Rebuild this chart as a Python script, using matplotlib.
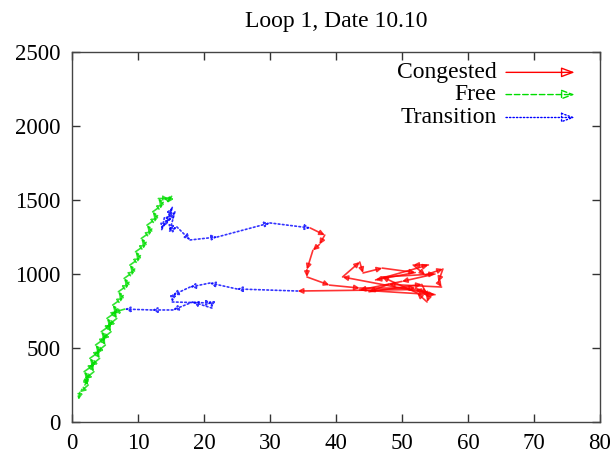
import numpy as np
import matplotlib
matplotlib.use("Agg")
import matplotlib.pyplot as plt

plt.rcParams['font.family'] = ['Liberation Serif', 'DejaVu Serif']

title = "Loop 1, Date 10.10"
x_ticks = [0, 10, 20, 30, 40, 50, 60, 70, 80]
y_ticks = [0, 500, 1000, 1500, 2000, 2500]

# Free regime: (occupancy, flow) paths; None separates paths
free_x = [1.96, 2.56, 1.84, 3.43, 2.71, 4.29, 3.57, 5.16, 4.44, 6.02, 5.30, 6.89, 6.17, 7.75, 7.03,
          8.62, 7.90, 9.48, 8.77, 10.35, 9.63, 11.22, 10.50, 12.08, 11.36, 12.95, 12.23, 13.81,
          13.09, 14.68, 15.1, 14.4, None,
          8.0, 6.27, 6.79, 5.41, 5.92, 4.54, 5.06, 3.68, 4.19, 2.81, 3.33, 1.95, 2.46, 1.18, 1.0]
free_y = [250, 300, 340, 390, 430, 480, 520, 570, 610, 660, 700, 750, 790, 840, 880,
          930, 970, 1020, 1060, 1110, 1150, 1200, 1240, 1290, 1330, 1380, 1420, 1470,
          1510, 1510, 1525, 1480, None,
          763, 740, 700, 650, 610, 560, 520, 470, 430, 380, 340, 290, 250, 200, 150]

# Transition regime
trans_x = [14.0, 13.6, 15.2, 14.3, 15.6, 14.8, 15.9, 17.9, 22.0, 30.0, 36.1, None,
           34.2, 25.0, 20.9, 17.9, 15.3, 15.2, 21.2, 21.2, 18.3, 15.3, 12.1, 8.0]
trans_y = [1380, 1300, 1450, 1340, 1420, 1290, 1318, 1230, 1250, 1345, 1311, None,
           885, 899, 939, 912, 858, 811, 804, 770, 811, 757, 757, 763]

# Congested regime
cong_x = [36.1, 38.3, 37.5, 36.5, 35.6, 35.6, 39.0, 43.6, 52.0, 54.0, 41.0, 43.6, 44.1, 47.0,
          52.0, 46.0, 54.0, 51.7, 53.5, 56.2, 55.5, 56.0, 48.0, 45.0, 53.0, 54.0, 53.8, 52.3,
          47.0, 55.0, 50.0, 43.6, 55.0, 52.0, 34.2]
cong_y = [1311, 1263, 1200, 1160, 1030, 980, 925, 905, 905, 870, 980, 1081, 1007, 1040,
          1010, 960, 1061, 1061, 993, 1034, 946, 912, 930, 880, 930, 840, 811, 872,
          980, 1000, 950, 892, 860, 895, 885]

series = [
    ("Congested", cong_x, cong_y, "#ff0000", "-"),
    ("Free", free_x, free_y, "#00dd00", (0, (4, 2))),
    ("Transition", trans_x, trans_y, "#0000ff", (0, (1, 1.5))),
]

fig = plt.figure(figsize=(6.15, 4.59), dpi=100)
ax = fig.add_axes([0.117, 0.0806, 0.8586, 0.8061])
ax.set_xlim(0, 80)
ax.set_ylim(0, 2500)

head = "-|>,head_length=0.3,head_width=0.15"
for name, xs, ys, col, ls in series:
    for i in range(len(xs) - 1):
        if xs[i] is None or xs[i + 1] is None:
            continue
        ax.annotate("", xy=(xs[i + 1], ys[i + 1]), xytext=(xs[i], ys[i]),
                    arrowprops=dict(arrowstyle=head, color=col, lw=1.2, ls=ls,
                                    shrinkA=0, shrinkB=0, fc="none", alpha=0.8))

# key (legend) in upper right
key_rows = [0.945, 0.885, 0.823]
for (name, xs, ys, col, ls), yk in zip(series, key_rows):
    ax.text(0.804, yk, name, transform=ax.transAxes, ha="right", va="center", fontsize=17)
    ax.annotate("", xy=(0.952, yk), xytext=(0.822, yk), xycoords="axes fraction",
                textcoords="axes fraction",
                arrowprops=dict(arrowstyle="-|>,head_length=0.8,head_width=0.3", color=col,
                                lw=1.0, ls=ls, shrinkA=0, shrinkB=0, fc="none"))

ax.set_xticks(x_ticks)
ax.set_yticks(y_ticks)
ax.tick_params(direction="in", length=6, width=1, top=True, right=True, labelsize=16.5,
               pad=8, colors="#333333", labelcolor="black")
for s in ax.spines.values():
    s.set_color("#444444")
    s.set_linewidth(1.0)
ax.set_title(title, fontsize=17, pad=18)

fig.savefig("out.png", dpi=100)
